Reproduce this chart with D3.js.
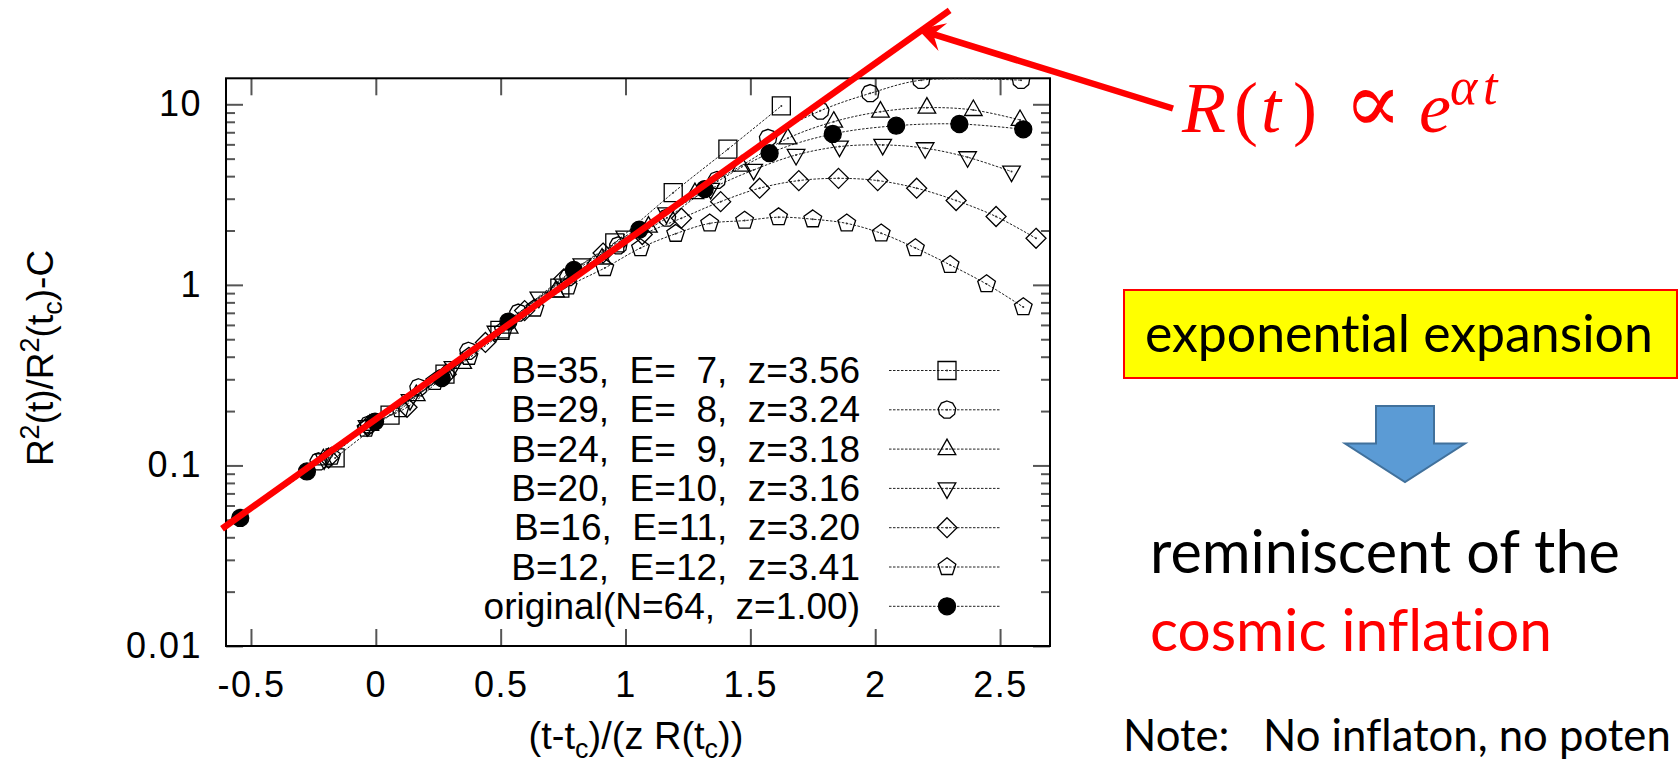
<!DOCTYPE html>
<html>
<head>
<meta charset="utf-8">
<script src="https://cdn.jsdelivr.net/npm/d3@7"></script>
<style>
  body { margin: 0; background: #fff; }
  svg { display: block; }
  text { font-variant-ligatures: none; }
</style>
</head>
<body>
<svg id="chart"></svg>
<script>
// values: x = (t-tc)/(z R(tc)), y = R^2(t)/R^2(tc)-C
var xB35 = [-0.163, 0.057, 0.277, 0.497, 0.737, 0.957, 1.191, 1.410, 1.624];
var yB35 = [0.110, 0.190, 0.320, 0.560, 0.960, 1.71, 3.24, 5.64, 9.79];

var xB29 = [-0.229, -0.029, 0.171, 0.371, 0.571, 0.771, 0.971, 1.166, 1.366, 1.571, 1.780, 1.980, 2.184, 2.584];
var yB29 = [0.105, 0.168, 0.270, 0.430, 0.700, 1.10, 1.65, 2.35, 3.80, 6.50, 9.20, 11.5, 13.6, 13.6];

var xB24 = [-0.210, -0.024, 0.162, 0.348, 0.534, 0.720, 0.906, 1.092, 1.278, 1.464, 1.650, 1.834, 2.021, 2.207, 2.393, 2.580];
var yB24 = [0.108, 0.168, 0.245, 0.370, 0.580, 0.920, 1.40, 2.10, 3.22, 4.57, 6.48, 8.01, 9.10, 9.58, 9.30, 8.19];

var xB20 = [-0.207, -0.035, 0.137, 0.309, 0.481, 0.653, 0.825, 0.997, 1.164, 1.341, 1.513, 1.683, 1.857, 2.030, 2.200, 2.370, 2.546];
var yB20 = [0.108, 0.165, 0.230, 0.350, 0.550, 0.850, 1.30, 1.85, 2.49, 3.40, 4.33, 5.24, 5.83, 5.96, 5.71, 5.09, 4.24];

var xB16 = [-0.189, -0.032, 0.125, 0.282, 0.439, 0.596, 0.753, 0.910, 1.067, 1.224, 1.381, 1.537, 1.694, 1.853, 2.010, 2.166, 2.324, 2.484, 2.644];
var yB16 = [0.110, 0.165, 0.210, 0.320, 0.480, 0.720, 1.08, 1.50, 1.90, 2.34, 2.89, 3.43, 3.78, 3.89, 3.78, 3.43, 2.93, 2.39, 1.81];

var xB12 = [-0.177, -0.039, 0.098, 0.236, 0.373, 0.511, 0.637, 0.770, 0.917, 1.060, 1.201, 1.337, 1.477, 1.613, 1.750, 1.886, 2.024, 2.161, 2.300, 2.446, 2.593];
var yB12 = [0.112, 0.160, 0.205, 0.290, 0.400, 0.560, 0.740, 0.980, 1.24, 1.60, 1.92, 2.19, 2.27, 2.37, 2.31, 2.19, 1.93, 1.60, 1.29, 1.01, 0.753];

var xOrig = [-0.543, -0.276, -0.003, 0.264, 0.531, 0.793, 1.055, 1.317, 1.577, 1.830, 2.084, 2.337, 2.593];
var yOrig = [0.0512, 0.0926, 0.175, 0.305, 0.626, 1.21, 2.02, 3.39, 5.36, 6.85, 7.61, 7.78, 7.27];

var labels = ['B=35,  E=  7,  z=3.56', 'B=29,  E=  8,  z=3.24', 'B=24,  E=  9,  z=3.18',
  'B=20,  E=10,  z=3.16', 'B=16,  E=11,  z=3.20', 'B=12,  E=12,  z=3.41', 'original(N=64,  z=1.00)'];
var markers = ['square', 'circle', 'up', 'down', 'diamond', 'pentagon', 'filled'];

// red exponential guide, endpoints
var fitX = [-0.616, 2.298];
var fitY = [0.0446, 33.1];

var xDomain = [-0.6, 2.7];
var yDomain = [0.01, 13.93];
var xTicks = [-0.5, 0, 0.5, 1, 1.5, 2, 2.5];
var yTicks = [0.01, 0.1, 1, 10];

var render = (selector) => {
  var width = 1678, height = 763;
  var left = 226, right = 1050, top = 78.3, bottom = 646;

  var svg = d3.select(selector)
    .attr('width', width)
    .attr('height', height)
    .style('font-family', '"Liberation Sans", Arial, sans-serif');

  svg.append('rect').attr('width', width).attr('height', height).attr('fill', '#fff');

  var x = d3.scaleLinear().domain(xDomain).range([left, right]);
  var y = d3.scaleLog().domain(yDomain).range([bottom, top]);

  var series = [
    {xs: xB35, ys: yB35}, {xs: xB29, ys: yB29}, {xs: xB24, ys: yB24},
    {xs: xB20, ys: yB20}, {xs: xB16, ys: yB16}, {xs: xB12, ys: yB12},
    {xs: xOrig, ys: yOrig}
  ].map((s, i) => ({
    label: labels[i],
    marker: markers[i],
    points: s.xs.map((v, j) => [v, s.ys[j]])
  }));

  var symbolPath = (type) => {
    if (type === 'square') return 'M-9,-9h18v18h-18Z';
    if (type === 'up') return 'M0,-10L8.8,5.5L-8.8,5.5Z';
    if (type === 'down') return 'M0,10L8.8,-5.5L-8.8,-5.5Z';
    if (type === 'diamond') return 'M0,-10L10,0L0,10L-10,0Z';
    if (type === 'pentagon') {
      var pts = d3.range(5).map(k => {
        var a = -Math.PI / 2 + k * 2 * Math.PI / 5;
        return [9.3 * Math.cos(a), 9.3 * Math.sin(a)];
      });
      return 'M' + pts.join('L') + 'Z';
    }
    if (type === 'circle') {
      var pts = d3.range(9).map(k => {
        var a = -Math.PI / 2 + k * 2 * Math.PI / 9;
        return [8.8 * Math.cos(a), 8.8 * Math.sin(a)];
      });
      return 'M' + pts.join('L') + 'Z';
    }
    return d3.symbol(d3.symbolCircle, Math.PI * 8.5 * 8.5)();
  };

  var drawMarker = (g, type) => {
    g.append('path')
      .attr('d', symbolPath(type))
      .attr('fill', type === 'filled' ? '#000' : 'none')
      .attr('stroke', '#000')
      .attr('stroke-width', 1.3);
    if (type !== 'filled') {
      g.append('circle').attr('r', 1).attr('fill', '#333');
    }
  };

  svg.append('clipPath').attr('id', 'plotclip')
    .append('rect')
    .attr('x', left).attr('y', top)
    .attr('width', right - left).attr('height', bottom - top);

  // ticks, gnuplot style: pointing inward on all four sides
  var minor = y.ticks().filter(v => yTicks.indexOf(v) < 0 && Math.abs(Math.log10(v) % 1) > 1e-6);

  var styleAxis = (g) => {
    g.select('.domain').remove();
    g.selectAll('.tick line').attr('stroke', '#555').attr('stroke-width', 2);
    g.selectAll('.tick text')
      .attr('fill', '#000')
      .attr('font-size', 36)
      .attr('letter-spacing', 1.5)
      .attr('font-family', '"Liberation Sans", Arial, sans-serif');
  };

  svg.append('g')
    .attr('transform', `translate(${ left }, 0)`)
    .call(d3.axisLeft(y).tickValues(yTicks).tickFormat(d3.format('~g')).tickSize(-17).tickPadding(24))
    .call(styleAxis);
  svg.append('g')
    .attr('transform', `translate(${ left }, 0)`)
    .call(d3.axisLeft(y).tickValues(minor).tickFormat('').tickSize(-9))
    .call(styleAxis);
  svg.append('g')
    .attr('transform', `translate(${ right }, 0)`)
    .call(d3.axisRight(y).tickValues(yTicks).tickFormat('').tickSize(-17))
    .call(styleAxis);
  svg.append('g')
    .attr('transform', `translate(${ right }, 0)`)
    .call(d3.axisRight(y).tickValues(minor).tickFormat('').tickSize(-9))
    .call(styleAxis);
  svg.append('g')
    .attr('transform', `translate(0, ${ bottom })`)
    .call(d3.axisBottom(x).tickValues(xTicks).tickFormat(d3.format('~g')).tickSize(-17).tickPadding(25))
    .call(styleAxis);
  svg.append('g')
    .attr('transform', `translate(0, ${ top })`)
    .call(d3.axisTop(x).tickValues(xTicks).tickFormat('').tickSize(-17))
    .call(styleAxis);

  svg.selectAll('.tick text').text(function () { return this.textContent.replace('\u2212', '-'); });

  svg.append('rect')
    .attr('x', left).attr('y', top)
    .attr('width', right - left).attr('height', bottom - top)
    .attr('fill', 'none')
    .attr('stroke', '#000')
    .attr('stroke-width', 2);

  // data
  var plot = svg.append('g').attr('clip-path', 'url(#plotclip)');
  var line = d3.line()
    .x(d => x(d[0]))
    .y(d => y(d[1]))
    .curve(d3.curveCatmullRom);

  plot.selectAll('.series-line')
    .data(series)
    .enter().append('path')
    .attr('class', 'series-line')
    .attr('d', d => line(d.points))
    .attr('fill', 'none')
    .attr('stroke', '#222')
    .attr('stroke-width', 1)
    .attr('stroke-dasharray', '2.5,1.5');

  series.forEach(s => {
    plot.selectAll(null)
      .data(s.points.filter(p => p[1] <= yDomain[1] && p[0] <= xDomain[1]))
      .enter().append('g')
      .attr('transform', d => `translate(${ x(d[0]) }, ${ y(d[1]) })`)
      .each(function () { drawMarker(d3.select(this), s.marker); });
  });

  // legend
  var legend = svg.append('g');
  series.forEach((s, i) => {
    var base = 383 + 39.3 * i;
    legend.append('text')
      .attr('x', 860)
      .attr('y', base)
      .attr('text-anchor', 'end')
      .attr('font-size', 37)
      .style('white-space', 'pre')
      .text(s.label);
    legend.append('line')
      .attr('x1', 889).attr('x2', 1001)
      .attr('y1', base - 12.5).attr('y2', base - 12.5)
      .attr('stroke', '#222')
      .attr('stroke-width', 1)
      .attr('stroke-dasharray', '2.5,1.5');
    var mk = legend.append('g').attr('transform', `translate(947, ${ base - 12.5 })`);
    drawMarker(mk, s.marker);
  });

  // axis titles
  var xt = svg.append('text')
    .attr('x', 636).attr('y', 749)
    .attr('text-anchor', 'middle')
    .attr('font-size', 38);
  xt.append('tspan').text('(t-t');
  xt.append('tspan').attr('font-size', 27).attr('dy', 9).text('c');
  xt.append('tspan').attr('dy', -9).text(')/(z R(t');
  xt.append('tspan').attr('font-size', 27).attr('dy', 9).text('c');
  xt.append('tspan').attr('dy', -9).text('))');

  var yt = svg.append('text')
    .attr('transform', 'translate(53, 358) rotate(-90)')
    .attr('text-anchor', 'middle')
    .attr('font-size', 37);
  yt.append('tspan').text('R');
  yt.append('tspan').attr('font-size', 27).attr('dy', -14).text('2');
  yt.append('tspan').attr('dy', 14).text('(t)/R');
  yt.append('tspan').attr('font-size', 27).attr('dy', -14).text('2');
  yt.append('tspan').attr('dy', 14).text('(t');
  yt.append('tspan').attr('font-size', 27).attr('dy', 9).text('c');
  yt.append('tspan').attr('dy', -9).text(')-C');

  // red exponential line on top of the data
  svg.append('path')
    .attr('d', d3.line().x(d => x(d[0])).y(d => y(d[1]))(fitX.map((v, i) => [v, fitY[i]])))
    .attr('stroke', '#ff0000')
    .attr('stroke-width', 6.5)
    .attr('fill', 'none');

  // annotation arrow pointing at the red line
  var tip = [918, 29.5], tail = [1173, 108.5];
  var ang = Math.atan2(tail[1] - tip[1], tail[0] - tip[0]);
  var rot = (a, p) => [tip[0] + a * Math.cos(ang) - p * Math.sin(ang), tip[1] + a * Math.sin(ang) + p * Math.cos(ang)];
  svg.append('line')
    .attr('x1', rot(14, 0)[0]).attr('y1', rot(14, 0)[1])
    .attr('x2', tail[0]).attr('y2', tail[1])
    .attr('stroke', '#ff0000')
    .attr('stroke-width', 6.5);
  svg.append('path')
    .attr('d', 'M' + [tip, rot(26, -14.5), rot(16, 0), rot(26, 14.5)].join('L') + 'Z')
    .attr('fill', '#ff0000');

  var eq = svg.append('text')
    .attr('y', 131.7)
    .attr('fill', '#ff0000')
    .attr('font-size', 72)
    .style('font-family', '"Liberation Serif", "DejaVu Serif", serif');
  eq.append('tspan').attr('x', 1182).attr('font-style', 'italic').text('R');
  eq.append('tspan').attr('x', 1234).text('(');
  eq.append('tspan').attr('x', 1261).attr('font-style', 'italic').text('t');
  eq.append('tspan').attr('x', 1293).text(')');
  eq.append('tspan').attr('x', 1344).attr('font-size', 86)
    .style('font-family', '"DejaVu Serif", serif').text('\u221d');
  eq.append('tspan').attr('x', 1419).attr('font-style', 'italic').text('e');
  eq.append('tspan').attr('x', 1450).attr('y', 104).attr('font-size', 52).attr('font-style', 'italic').text('\u03b1');
  eq.append('tspan').attr('x', 1483).attr('y', 104).attr('font-size', 52).attr('font-style', 'italic').text('t');

  // right hand side notes
  var fitText = (sel, target) => {
    var fs = parseFloat(sel.attr('font-size'));
    var w = sel.node().getComputedTextLength();
    sel.attr('font-size', fs * target / w);
  };
  var slideFont = 'Lato, "Open Sans", sans-serif';

  svg.append('rect')
    .attr('x', 1124).attr('y', 290)
    .attr('width', 553).attr('height', 88)
    .attr('fill', '#ffff00')
    .attr('stroke', '#ff0000')
    .attr('stroke-width', 2);
  var t1 = svg.append('text')
    .attr('x', 1145).attr('y', 352)
    .attr('font-size', 50)
    .style('font-family', slideFont)
    .attr('fill', '#000')
    .text('exponential expansion');
  fitText(t1, 508);

  svg.append('path')
    .attr('d', 'M1376,406H1434V443.5H1465L1405,482L1345,443.5H1376Z')
    .attr('fill', '#5b9bd5')
    .attr('stroke', '#41719c')
    .attr('stroke-width', 2);

  var t2 = svg.append('text')
    .attr('x', 1150).attr('y', 573)
    .attr('font-size', 60)
    .style('font-family', slideFont)
    .attr('fill', '#000')
    .text('reminiscent of the');
  fitText(t2, 470);
  var t3 = svg.append('text')
    .attr('x', 1150).attr('y', 651)
    .attr('font-size', 60)
    .style('font-family', slideFont)
    .attr('fill', '#ff0000')
    .text('cosmic inflation');
  fitText(t3, 402);
  var t4 = svg.append('text')
    .attr('x', 1123).attr('y', 751)
    .attr('font-size', 44)
    .style('font-family', slideFont)
    .style('white-space', 'pre')
    .attr('fill', '#000')
    .text('Note:   No inflaton, no poten');
  fitText(t4, 548);
};

render('#chart');
</script>
</body>
</html>
